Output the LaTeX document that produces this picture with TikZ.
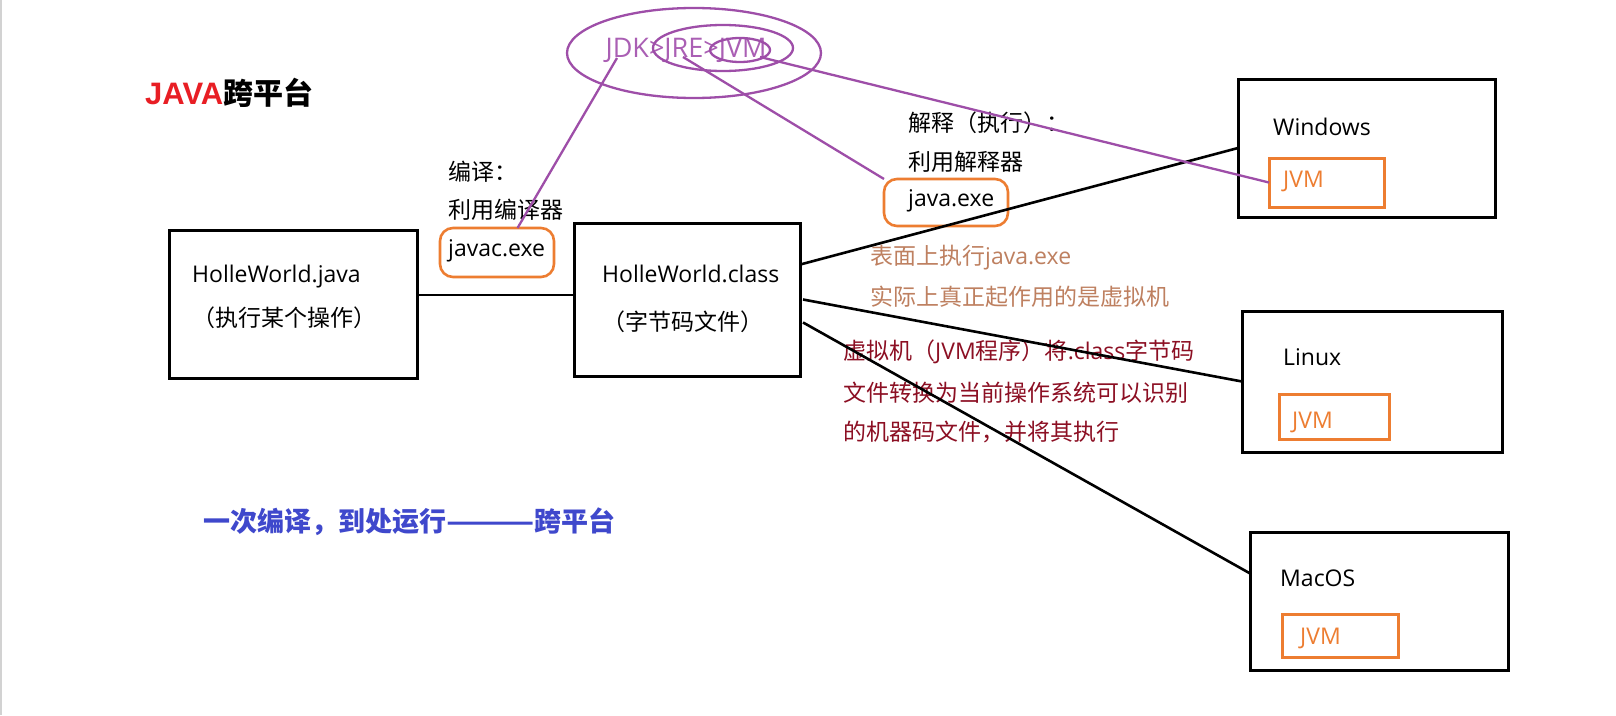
\documentclass[tikz,border=0pt]{standalone}
\usepackage{fontspec}
\setmainfont{Open Sans}
\newfontfamily\cjk{Noto Sans CJK SC}
\newfontfamily\arialb{Liberation Sans}
\usetikzlibrary{calc}
\definecolor{pur}{RGB}{158,78,168}
\definecolor{purT}{RGB}{170,95,180}
\definecolor{orng}{RGB}{237,125,49}
\definecolor{brwn}{RGB}{190,128,96}
\definecolor{dred}{RGB}{140,15,35}
\definecolor{blu}{RGB}{63,72,204}
\definecolor{tred}{RGB}{232,30,36}
\begin{document}
\begin{tikzpicture}[x=1pt,y=-1pt,
  box/.style={draw=black, line width=3pt, anchor=north west, inner sep=0pt, outer sep=0pt},
  jvmbox/.style={draw=orng, line width=3pt, anchor=north west, inner sep=0pt, outer sep=0pt},
  rbox/.style={draw=orng, line width=2.6pt, rounded corners=13pt, anchor=north west, inner sep=0pt, outer sep=0pt},
  conn/.style={black, line width=2.6pt},
  pconn/.style={pur, line width=2.3pt},
  txt/.style={anchor=west, inner sep=0pt, font=\fontsize{23}{28}\selectfont},
]
\useasboundingbox (0,0) rectangle (1616,715);
\fill[white] (0,0) rectangle (1616,715);
\draw[gray!35, line width=2pt] (1,0) -- (1,715);

% title
\node[anchor=west, inner sep=0pt] (title) at (145,93)
  {\textcolor{tred}{\fontsize{31}{36}\selectfont\arialb\bfseries JAVA}{\fontsize{30}{36}\selectfont\cjk\bfseries 跨平台}};

% main boxes
\node[box, minimum width=248pt, minimum height=148pt] (java) at (169,230) {};
\node[box, minimum width=226pt, minimum height=153pt] (cls) at (574,223) {};
\node[txt] (t1) at (192,277) {HolleWorld.java};
\node[txt] (t2) at (192,318) {\cjk （执行某个操作）};
\node[txt] (t3) at (602,274) {HolleWorld.class};
\node[txt] (t4) at (602,322) {\cjk （字节码文件）};

% compiler labels
\node[txt] (t5) at (448,172) {\cjk 编译：};
\node[txt] (t6) at (448,210) {\cjk 利用编译器};
\node[rbox, minimum width=114pt, minimum height=49pt] (javac) at (440,228) {};
\node[txt] (t7) at (448,251) {javac.exe};

% interpreter labels
\node[txt] (t8) at (908,123) {\cjk 解释（执行）：};
\node[txt] (t9) at (908,162) {\cjk 利用解释器};
\node[rbox, minimum width=124pt, minimum height=47pt] (jexe) at (884,179) {};
\node[txt] (t10) at (908,201) {java.exe};

% brown notes
\node[txt, text=brwn] (b1) at (870,258) {{\cjk 表面上执行}java.exe};
\node[txt, text=brwn] (b2) at (870,297) {\cjk 实际上真正起作用的是虚拟机};

% dark red notes
\node[txt, text=dred] (r1) at (843,352) {{\cjk 虚拟机（}JVM{\cjk 程序）将}.class{\cjk 字节码}};
\node[txt, text=dred] (r2) at (843,393) {\cjk 文件转换为当前操作系统可以识别};
\node[txt, text=dred] (r3) at (843,432) {\cjk 的机器码文件，并将其执行};

% OS boxes
\node[box, minimum width=257pt, minimum height=138pt] (win) at (1238,79) {};
\node[box, minimum width=260pt, minimum height=141pt] (lin) at (1242,311) {};
\node[box, minimum width=258pt, minimum height=138pt] (mac) at (1250,532) {};
\node[txt] (tw) at (1273,127) {Windows};
\node[txt] (tl) at (1283,357) {Linux};
\node[txt] (tm) at (1280,578) {MacOS};
\node[jvmbox, minimum width=115pt, minimum height=49pt] (wjvm) at (1269,158) {};
\node[jvmbox, minimum width=110pt, minimum height=45pt] (ljvm) at (1279,394) {};
\node[jvmbox, minimum width=116pt, minimum height=43pt] (mjvm) at (1282,614) {};
\node[txt, text=orng] (jw) at (1283,181) {JVM};
\node[txt, text=orng] (jl) at (1292,422) {JVM};
\node[txt, text=orng] (jm) at (1300,638) {JVM};

% bottom blue slogan
\node[anchor=west, inner sep=0pt, text=blu, font=\fontsize{27}{32}\selectfont] (slogan) at (203,522)
  {\cjk\bfseries 一次编译，到处运行\scalebox{1.3}[1]{———}跨平台};

% JDK > JRE > JVM
\node[anchor=center, inner sep=0pt, text=purT, font=\fontsize{27}{32}\selectfont] (jdk) at (686,50) {JDK>JRE>JVM};
\draw[pconn] (694,53) ellipse [x radius=127pt, y radius=45pt];
\draw[pconn] (723,48) ellipse [x radius=70pt, y radius=23pt];
\draw[pconn] (740,50) ellipse [x radius=30pt, y radius=12pt];

% connectors
\coordinate (jstart) at ($(java.north east)!0.44!(java.south east)$);
\draw[conn] (jstart) -- (jstart -| cls.west);
\coordinate (cw) at ($(cls.north east)!0.27!(cls.south east)+(1,0)$);
\coordinate (cl) at ($(cls.north east)!0.5!(cls.south east)+(3,0)$);
\coordinate (cm) at ($(cls.north east)!0.65!(cls.south east)+(3,0)$);
\coordinate (me) at ($(mac.north west)!0.3!(mac.south west)$);
\draw[conn] (cw) -- (win.west);
\draw[conn] (cl) -- (lin.west);
\draw[conn] (cm) -- (me);

% purple connectors
\coordinate (pjdk) at (617,58);
\coordinate (pjre) at (683,57);
\coordinate (pjvm) at (760,57);
\coordinate (pjavac) at ($(javac.north west)!0.68!(javac.north east)$);
\draw[pconn] (pjdk) -- (pjavac);
\draw[pconn] (pjre) -- (jexe.north west);
\draw[pconn] (pjvm) -- (wjvm.west);
\end{tikzpicture}
\end{document}
